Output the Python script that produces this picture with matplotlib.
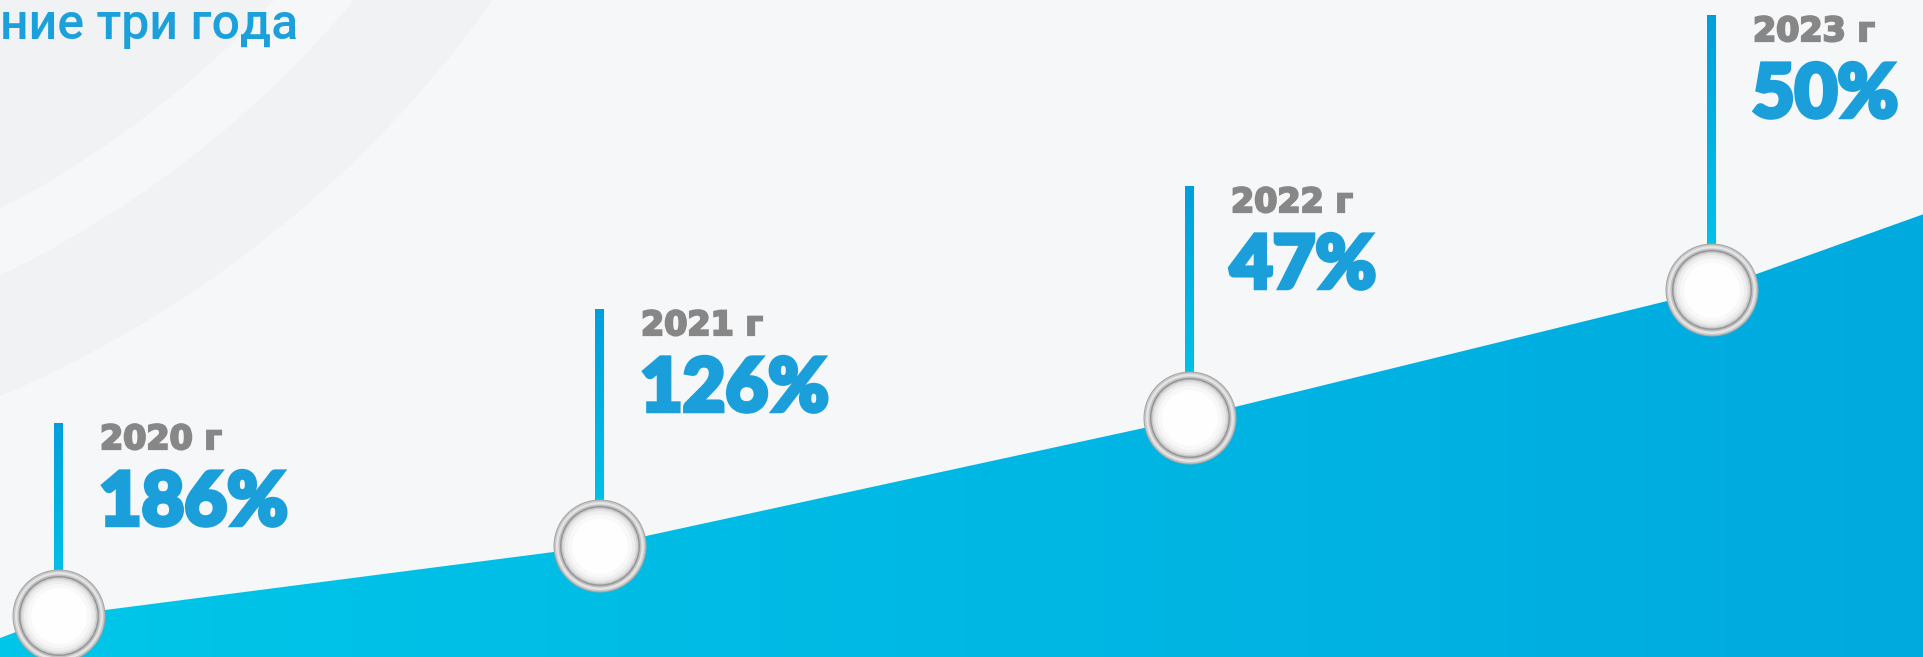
import numpy as np
import matplotlib.pyplot as plt
import matplotlib.patheffects as pe
from matplotlib.patches import Polygon, Circle
from matplotlib.colors import LinearSegmentedColormap

# ---------- Data ----------
years = ["2020 г", "2021 г", "2022 г", "2023 г"]
growth = ["186%", "126%", "47%", "50%"]

# growth line (decorative curve under the markers), canvas units
curve_x = [0, 59, 600, 1190, 1712, 1924]
curve_y = [19, 41, 111, 239, 367, 443]
stem_top = [234, 348, 471, 642]

title = "ние три года"

W, H = 1924, 657
fig = plt.figure(figsize=(W / 100, H / 100), dpi=100)
ax = fig.add_axes([0, 0, 1, 1])
ax.set_axis_off()

# ---------- Background with faint rings ----------
bg = "#f6f7f9"
band = "#f0f2f4"
ax.add_patch(plt.Rectangle((0, 0), W, H, color=bg, zorder=0))
ring_c = (-459, H + 680)
for r, c in [(1170, band), (1060, bg), (1000, band)]:
    ax.add_patch(Circle(ring_c, r, color=c, zorder=0.1, lw=0))

# ---------- Area under the curve, horizontal gradient ----------
area_pts = list(zip(curve_x, curve_y)) + [(W, -5), (0, -5)]
area = Polygon(area_pts, closed=True, fc="none", ec="none")
ax.add_patch(area)
area_cmap = LinearSegmentedColormap.from_list("area", ["#00c6e9", "#00aadf"])
grad = np.linspace(0, 1, 256).reshape(1, -1)
im = ax.imshow(grad, cmap=area_cmap, extent=[0, W, 0, H], aspect="auto",
               zorder=1, interpolation="bicubic")
im.set_clip_path(area)

# ---------- Stems, markers and labels ----------
stem_cmap = LinearSegmentedColormap.from_list("stem", ["#00c9eb", "#009fdc"])
vgrad = np.linspace(0, 1, 256).reshape(-1, 1)
mx = curve_x[1:-1]
my = curve_y[1:-1]

ring_layers = [(46.5, "#a4a4a4"), (45.5, "#c8c8c8"), (44, "#e4e4e4"), (41.5, "#c0c0c0"),
               (40, "#969696"), (38.5, "#cccccc"), (37, "#e2e2e2"), (35, "#efefef"),
               (32, "#f8f8f8"), (28, "#fefefe")]

year_fx = [pe.withStroke(linewidth=1.6, foreground="#878787", joinstyle="miter")]
num_fx = [pe.withStroke(linewidth=3.2, foreground="#1a9fdb", joinstyle="miter")]

for i in range(len(years)):
    x, y, top = mx[i], my[i], stem_top[i]
    ax.imshow(vgrad, cmap=stem_cmap, origin="lower", extent=[x - 4.5, x + 4.5, y, top],
              aspect="auto", zorder=2)

    # silver ring button
    for r, c in ring_layers:
        ax.add_patch(Circle((x, y), r, fc=c, ec="none", zorder=3))

    ax.text(x + 41, top - 26, years[i], fontsize=24, fontweight="bold",
            family="DejaVu Sans", color="#878787", va="baseline", ha="left", zorder=4,
            path_effects=year_fx)
    ax.text(x + 40, top - 102, growth[i], fontsize=53, fontweight="black",
            family="Lato", color="#1a9fdb", va="baseline", ha="left", zorder=4,
            path_effects=num_fx)

# ---------- Title (cropped in the original) ----------
ax.text(0, H - 39, title, fontsize=36, fontweight="medium", family="Roboto",
        color="#1ba0dc", ha="left", va="baseline", zorder=4)

ax.set_xlim(0, W)
ax.set_ylim(0, H)

fig.savefig("out.png", dpi=100)
